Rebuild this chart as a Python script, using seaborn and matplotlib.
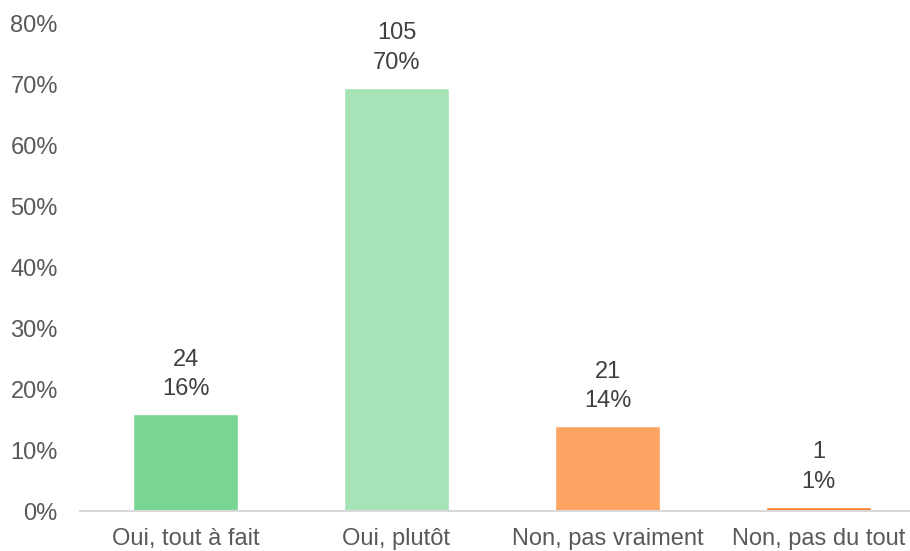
import matplotlib
matplotlib.use("Agg")
import matplotlib.pyplot as plt
import seaborn as sns
import pandas as pd
from matplotlib.ticker import PercentFormatter

# Survey answers and the number of respondents for each
categories = ["Oui, tout à fait", "Oui, plutôt", "Non, pas vraiment", "Non, pas du tout"]
counts = [24, 105, 21, 1]
colors = ["#79D594", "#A6E3B7", "#FDA463", "#FF7F2A"]

total = sum(counts)
shares = [c / total for c in counts]

df = pd.DataFrame({"categorie": categories, "part": shares, "n": counts})

sns.set_theme(style="white")
plt.rcParams["font.family"] = ["Liberation Sans", "DejaVu Sans"]

fig = plt.figure(figsize=(9.1, 5.51), dpi=100)
ax = fig.add_axes([80 / 910, 40 / 551, 830 / 910, 487 / 551])

sns.barplot(data=df, x="categorie", y="part", hue="categorie", palette=colors,
            width=0.5, legend=False, ax=ax, saturation=1)

ax.set_xlim(-0.5, -0.5 + 830 / 211)
ax.set_ylim(0, 0.8)
ax.set_yticks([i / 10 for i in range(9)])
ax.yaxis.set_major_formatter(PercentFormatter(1.0, decimals=0))

for spine in ["top", "right", "left"]:
    ax.spines[spine].set_visible(False)
ax.spines["bottom"].set_color("#D9D9D9")
ax.spines["bottom"].set_linewidth(1.5)

ax.tick_params(axis="y", length=0, pad=16, labelsize=17, labelcolor="#595959")
ax.tick_params(axis="x", length=0, pad=12, labelsize=17, labelcolor="#595959")
ax.set_xlabel("")
ax.set_ylabel("")

for i, (n, p) in enumerate(zip(counts, shares)):
    ax.annotate(f"{n}\n{p:.0%}", xy=(i, p), xytext=(0, 10), textcoords="offset points",
                ha="center", va="bottom", fontsize=17, color="#404040", linespacing=1.45)

fig.savefig("out.png", dpi=100)
